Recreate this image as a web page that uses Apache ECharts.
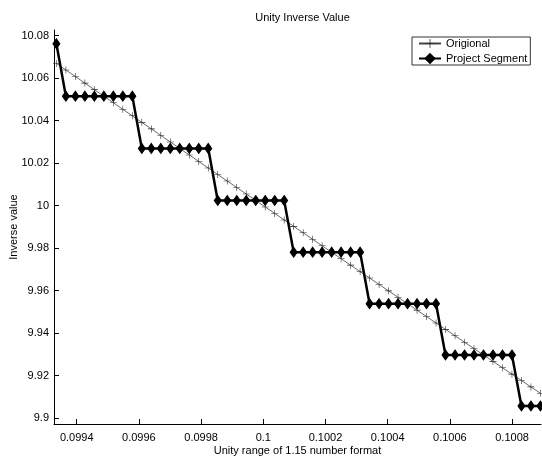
<!DOCTYPE html>
<html>
<head>
<meta charset="utf-8">
<script src="https://cdn.jsdelivr.net/npm/echarts@6/dist/echarts.min.js"></script>
<style>
    html, body { margin: 0; padding: 0; background: #fff; }
    #chart { width: 542px; height: 460px; }
</style>
</head>
<body>
<div id="chart"></div>
<script>
    // x positions (Q1.15 steps)
    var unityX = [
        0.0993347, 0.0993652, 0.0993958, 0.0994263, 0.0994568, 0.0994873, 0.0995178, 0.0995483,
        0.0995789, 0.0996094, 0.0996399, 0.0996704, 0.0997009, 0.0997314, 0.0997620, 0.0997925,
        0.0998230, 0.0998535, 0.0998840, 0.0999146, 0.0999451, 0.0999756, 0.1000061, 0.1000366,
        0.1000671, 0.1000977, 0.1001282, 0.1001587, 0.1001892, 0.1002197, 0.1002502, 0.1002808,
        0.1003113, 0.1003418, 0.1003723, 0.1004028, 0.1004333, 0.1004639, 0.1004944, 0.1005249,
        0.1005554, 0.1005859, 0.1006165, 0.1006470, 0.1006775, 0.1007080, 0.1007385, 0.1007690,
        0.1007996, 0.1008301, 0.1008606, 0.1008911
    ];
    var origionalY = [
        10.06697, 10.06388, 10.06079, 10.05770, 10.05462, 10.05153, 10.04845, 10.04537,
        10.04229, 10.03922, 10.03614, 10.03307, 10.03000, 10.02693, 10.02386, 10.02080,
        10.01773, 10.01467, 10.01161, 10.00855, 10.00550, 10.00244, 9.99939, 9.99634,
        9.99329, 9.99024, 9.98720, 9.98416, 9.98111, 9.97808, 9.97504, 9.97200,
        9.96897, 9.96594, 9.96291, 9.95988, 9.95685, 9.95383, 9.95080, 9.94778,
        9.94476, 9.94175, 9.93873, 9.93572, 9.93271, 9.92970, 9.92669, 9.92368,
        9.92068, 9.91768, 9.91467, 9.91168
    ];
    var segmentY = [
        10.07626,
        10.05153, 10.05153, 10.05153, 10.05153, 10.05153, 10.05153, 10.05153, 10.05153,
        10.02693, 10.02693, 10.02693, 10.02693, 10.02693, 10.02693, 10.02693, 10.02693,
        10.00244, 10.00244, 10.00244, 10.00244, 10.00244, 10.00244, 10.00244, 10.00244,
        9.97808, 9.97808, 9.97808, 9.97808, 9.97808, 9.97808, 9.97808, 9.97808,
        9.95383, 9.95383, 9.95383, 9.95383, 9.95383, 9.95383, 9.95383, 9.95383,
        9.92970, 9.92970, 9.92970, 9.92970, 9.92970, 9.92970, 9.92970, 9.92970,
        9.90568, 9.90568, 9.90568
    ];
    var xTicks = [0.0994, 0.0996, 0.0998, 0.1, 0.1002, 0.1004, 0.1006, 0.1008];
    var yTicks = [9.9, 9.92, 9.94, 9.96, 9.98, 10, 10.02, 10.04, 10.06, 10.08];

    var font = '"Liberation Sans", Arial, Helvetica, sans-serif';
    var plusPath = 'path://M4.6,0H5.4V4.6H10V5.4H5.4V10H4.6V5.4H0V4.6H4.6Z';

    function pairs (ys) {
        return unityX.map(function (x, i) { return [x, ys[i]]; });
    }

    var chart = echarts.init(document.getElementById('chart'));
    chart.setOption({
        animation: false,
        textStyle: { fontFamily: font },
        title: {
            text: 'Unity Inverse Value',
            left: 297.5,
            textAlign: 'center',
            top: 7,
            textStyle: { fontSize: 11, fontWeight: 'normal', color: '#000', fontFamily: font }
        },
        legend: {
            orient: 'vertical',
            left: 412,
            top: 37,
            padding: [1, 3, 1, 6],
            itemGap: 4,
            itemWidth: 22,
            itemHeight: 11,
            borderColor: '#333',
            borderWidth: 1,
            borderRadius: 0,
            backgroundColor: '#fff',
            textStyle: { fontSize: 11, color: '#000', fontFamily: font, padding: [0, 0, 0, 0] },
            data: ['Origional', 'Project Segment']
        },
        grid: {
            left: 54,
            right: 1,
            top: 30,
            bottom: 36,
            outerBoundsMode: 'none'
        },
        xAxis: {
            type: 'value',
            min: 0.099327,
            max: 0.100893,
            name: 'Unity range of 1.15 number format',
            nameLocation: 'middle',
            nameGap: 21,
            nameMoveOverlap: false,
            nameTextStyle: { fontSize: 11, color: '#000', fontFamily: font },
            axisLine: { lineStyle: { color: '#000', width: 1 } },
            axisTick: { inside: true, length: 5, customValues: xTicks, lineStyle: { color: '#000' } },
            axisLabel: {
                customValues: xTicks,
                margin: 8,
                fontSize: 11,
                color: '#000',
                fontFamily: font,
                formatter: function (v) { return String(v); }
            },
            splitLine: { show: false }
        },
        yAxis: {
            type: 'value',
            min: 9.8972,
            max: 10.0827,
            name: 'Inverse value',
            nameLocation: 'middle',
            nameGap: 35,
            nameMoveOverlap: false,
            nameTextStyle: { fontSize: 11, color: '#000', fontFamily: font },
            axisLine: { show: true, lineStyle: { color: '#000', width: 1 } },
            axisTick: { show: true, inside: true, length: 5, customValues: yTicks, lineStyle: { color: '#000' } },
            axisLabel: {
                customValues: yTicks,
                margin: 5,
                fontSize: 11,
                color: '#000',
                fontFamily: font,
                formatter: function (v) { return String(v); }
            },
            splitLine: { show: false }
        },
        series: [
            {
                name: 'Origional',
                type: 'line',
                data: pairs(origionalY),
                symbol: plusPath,
                symbolSize: 7,
                showAllSymbol: true,
                lineStyle: { color: '#444', width: 0.8 },
                itemStyle: { color: '#222' },
                z: 2
            },
            {
                name: 'Project Segment',
                type: 'line',
                data: pairs(segmentY),
                symbol: 'diamond',
                symbolSize: [7, 10],
                showAllSymbol: true,
                lineStyle: { color: '#000', width: 2.5 },
                itemStyle: { color: '#000', borderColor: '#000', borderWidth: 1 },
                z: 3
            }
        ]
    });
</script>
</body>
</html>
